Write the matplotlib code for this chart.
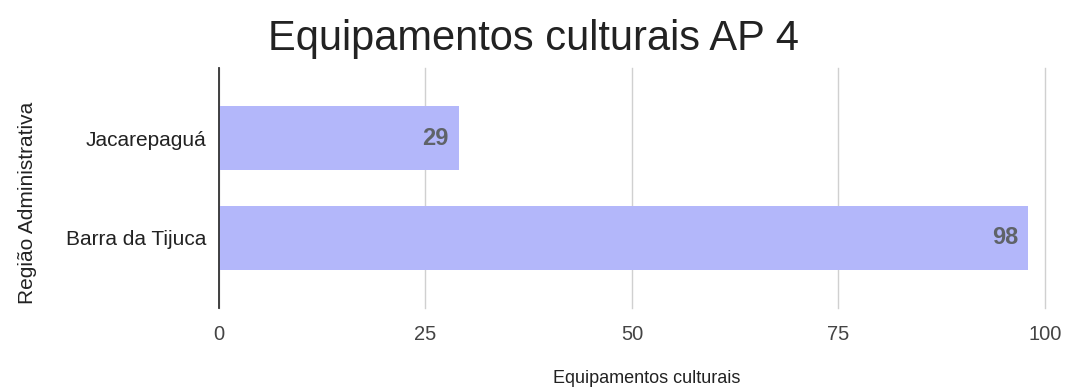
import matplotlib
matplotlib.use("Agg")
import matplotlib.pyplot as plt

categories = ["Barra da Tijuca", "Jacarepaguá"]
values = [98, 29]
xticks = [0, 25, 50, 75, 100]

plt.rcParams['font.family'] = ['Liberation Sans', 'DejaVu Sans']

fig = plt.figure(figsize=(10.66, 3.9), dpi=100)
ax = fig.add_axes([0.2054, 0.2103, 0.7749, 0.6153])

pos = list(range(len(categories)))
ax.barh(pos, values, height=0.64, color="#b3b7fa", zorder=2)
for p, v in zip(pos, values):
    ax.text(v - 1.2, p, str(v), ha="right", va="center", fontsize=17,
            fontweight="bold", color="#5f6368", zorder=3)

ax.set_xlim(0, 100)
ax.set_ylim(-0.7, 1.7)
ax.set_yticks(pos)
ax.set_yticklabels(categories, fontsize=15, color="#222222")
ax.set_xticks(xticks)
ax.set_xticklabels([str(t) for t in xticks], fontsize=14.5, color="#444444")
ax.tick_params(axis="both", length=0, pad=9)
ax.tick_params(axis="x", pad=12)
ax.grid(axis="x", color="#d0d0d0", linewidth=1, zorder=0)
for gl in ax.get_xgridlines():
    gl.set_clip_on(False)
for s in ["top", "right", "bottom"]:
    ax.spines[s].set_visible(False)
ax.spines["left"].set_color("#333333")
ax.spines["left"].set_linewidth(1.3)
ax.spines["left"].set_zorder(4)

fig.text(0.5, 0.9, "Equipamentos culturais AP 4", ha="center", va="center",
         fontsize=30, color="#222222")
fig.text(0.607, 0.03, "Equipamentos culturais", ha="center", va="center",
         fontsize=13, color="#222222")
fig.text(0.026, 0.479, "Região Administrativa", ha="center", va="center",
         rotation=90, fontsize=15, color="#222222")

fig.savefig("out.png", dpi=100)
